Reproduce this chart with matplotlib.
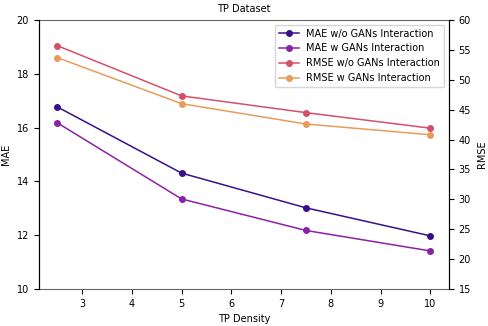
import matplotlib
matplotlib.use("Agg")
import matplotlib.pyplot as plt
import numpy as np

density = [2.5, 5, 7.5, 10]
mae_wo = [16.77, 14.31, 13.02, 11.98]
mae_w = [16.18, 13.35, 12.18, 11.42]
rmse_wo = [55.7, 47.3, 44.5, 41.9]
rmse_w = [53.7, 46.0, 42.6, 40.8]

colors = ['#3a0f8c', '#8a22a6', '#d4506b', '#e89c5a']

plt.rcParams['font.size'] = 7

fig, ax = plt.subplots(figsize=(4.88, 3.26), dpi=100)
ax2 = ax.twinx()

l1, = ax.plot(density, mae_wo, marker='o', markersize=4, lw=1.1, color=colors[0], label='MAE w/o GANs Interaction')
l2, = ax.plot(density, mae_w, marker='o', markersize=4, lw=1.1, color=colors[1], label='MAE w GANs Interaction')
l3, = ax2.plot(density, rmse_wo, marker='o', markersize=4, lw=1.1, color=colors[2], label='RMSE w/o GANs Interaction')
l4, = ax2.plot(density, rmse_w, marker='o', markersize=4, lw=1.1, color=colors[3], label='RMSE w GANs Interaction')

ax.set_ylim(10, 20)
ax2.set_ylim(15, 60)
ax.set_xlabel('TP Density')
ax.set_ylabel('MAE')
ax2.set_ylabel('RMSE')
ax.set_title('TP Dataset', fontsize=7)

for s in ['top', 'bottom']:
    ax.spines[s].set_color('#666666')
    ax2.spines[s].set_visible(False)

ax2.legend(handles=[l1, l2, l3, l4], loc='upper right')

fig.subplots_adjust(left=0.079, right=0.92, top=0.939, bottom=0.113)
fig.savefig('out.png')
